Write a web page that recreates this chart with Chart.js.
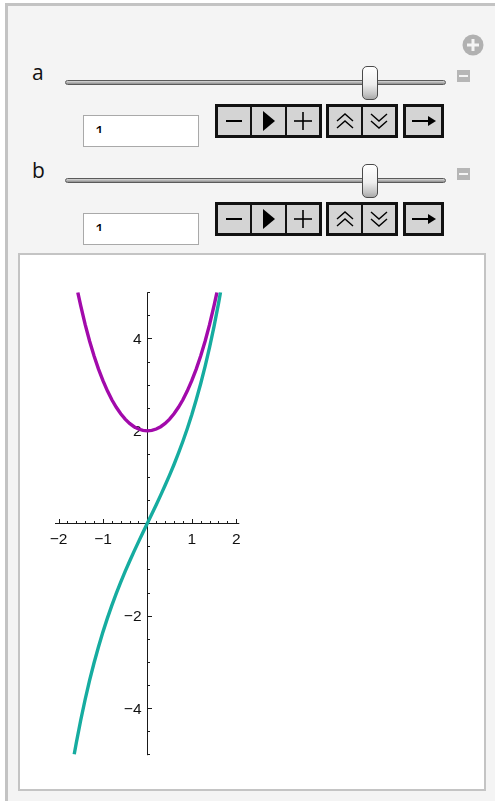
<!DOCTYPE html>
<html>
<head>
<meta charset="utf-8">
<script src="https://cdn.jsdelivr.net/npm/chart.js@4.4.1/dist/chart.umd.min.js"></script>
<style>
  body { margin: 0; background: #fff; width: 495px; height: 801px; overflow: hidden; position: relative; font-family: "Open Sans", "Noto Sans", sans-serif; }
  .panel { position: absolute; left: 5px; top: 3px; width: 510px; height: 820px; border: 3px solid #c3c3c3; background: #f4f4f4; box-sizing: border-box; }
  .lbl { position: absolute; left: 32px; font-size: 21px; color: #111; line-height: 21px; }
  .track { position: absolute; left: 65px; width: 381px; height: 5px; border: 1px solid #5a5a5a; border-radius: 4px; background: linear-gradient(#d8d8d8, #8c8c8c); box-sizing: border-box; }
  .thumb { position: absolute; left: 362px; width: 16px; height: 34px; border: 1px solid #4a4a4a; border-radius: 5px; box-sizing: border-box;
           background: linear-gradient(#ffffff 0%, #eeeeee 55%, #c4c4c4 85%, #a8a8a8 100%); }
  .minus { position: absolute; left: 457px; width: 13px; height: 12px; background: #b6b6b6; }
  .minus::after { content: ""; position: absolute; left: 2px; top: 5px; width: 9px; height: 2px; background: #f4f4f4; }
  .field { position: absolute; left: 83px; width: 116px; height: 32px; border: 1px solid #a9a9a9; background: #fff; box-sizing: border-box; }
  .field span { position: absolute; left: 11px; top: 10px; height: 7px; overflow: hidden; font: 17px "Liberation Sans", Arial, sans-serif; line-height: 17px; color: #000; }
  .field span i { font-style: normal; position: relative; top: -2px; }
  .grp { position: absolute; display: flex; border: 3px solid #111; background: #d4d4d4; box-sizing: border-box; height: 34px; }
  .grp div { width: 34px; height: 28px; display: flex; align-items: center; justify-content: center; }
  .grp div + div { border-left: 2.5px solid #111; }
  .plotbox { position: absolute; left: 18px; top: 253px; width: 468px; height: 538px; border: 2px solid #c4c4c4; background: #fff; box-sizing: border-box; }
  #chart { position: absolute; left: 20px; top: 255px; }
</style>
</head>
<body>
<div class="panel"></div>

<!-- add-control button -->
<svg style="position:absolute;left:462px;top:34px" width="22" height="22">
  <circle cx="11" cy="11" r="10.5" fill="#b1b1b1"/>
  <rect x="5" y="9.5" width="12" height="3" fill="#f4f4f4"/>
  <rect x="9.5" y="5" width="3" height="12" fill="#f4f4f4"/>
</svg>

<!-- control a -->
<div class="lbl" style="top:62px">a</div>
<div class="track" style="top:80px"></div>
<div class="thumb" style="top:66px"></div>
<div class="minus" style="top:70px"></div>
<div class="field" style="top:115px"><span><i>1</i></span></div>
<div class="grp" style="left:215px;top:104px;width:107px">
  <div><svg width="20" height="20"><line x1="2" y1="10" x2="18" y2="10" stroke="#000" stroke-width="2"/></svg></div>
  <div><svg width="20" height="20"><polygon points="5,0 17,10 5,20" fill="#000"/></svg></div>
  <div><svg width="20" height="20"><line x1="1" y1="10" x2="19" y2="10" stroke="#000" stroke-width="1.6"/><line x1="10" y1="1" x2="10" y2="19" stroke="#000" stroke-width="1.6"/></svg></div>
</div>
<div class="grp" style="left:326px;top:104px;width:72px">
  <div><svg width="20" height="20"><polyline points="2,10 10,3 18,10" fill="none" stroke="#000" stroke-width="1.4"/><polyline points="2,17 10,10 18,17" fill="none" stroke="#000" stroke-width="1.4"/></svg></div>
  <div><svg width="20" height="20"><polyline points="2,3 10,10 18,3" fill="none" stroke="#000" stroke-width="1.4"/><polyline points="2,10 10,17 18,10" fill="none" stroke="#000" stroke-width="1.4"/></svg></div>
</div>
<div class="grp" style="left:403px;top:104px;width:41px">
  <div style="width:35px"><svg width="28" height="20"><line x1="2" y1="10" x2="24" y2="10" stroke="#000" stroke-width="2"/><polygon points="18,5 26,10 18,15" fill="#000"/></svg></div>
</div>

<!-- control b -->
<div class="lbl" style="top:160px">b</div>
<div class="track" style="top:178px"></div>
<div class="thumb" style="top:164px"></div>
<div class="minus" style="top:168px"></div>
<div class="field" style="top:213px"><span><i>1</i></span></div>
<div class="grp" style="left:215px;top:202px;width:107px">
  <div><svg width="20" height="20"><line x1="2" y1="10" x2="18" y2="10" stroke="#000" stroke-width="2"/></svg></div>
  <div><svg width="20" height="20"><polygon points="5,0 17,10 5,20" fill="#000"/></svg></div>
  <div><svg width="20" height="20"><line x1="1" y1="10" x2="19" y2="10" stroke="#000" stroke-width="1.6"/><line x1="10" y1="1" x2="10" y2="19" stroke="#000" stroke-width="1.6"/></svg></div>
</div>
<div class="grp" style="left:326px;top:202px;width:72px">
  <div><svg width="20" height="20"><polyline points="2,10 10,3 18,10" fill="none" stroke="#000" stroke-width="1.4"/><polyline points="2,17 10,10 18,17" fill="none" stroke="#000" stroke-width="1.4"/></svg></div>
  <div><svg width="20" height="20"><polyline points="2,3 10,10 18,3" fill="none" stroke="#000" stroke-width="1.4"/><polyline points="2,10 10,17 18,10" fill="none" stroke="#000" stroke-width="1.4"/></svg></div>
</div>
<div class="grp" style="left:403px;top:202px;width:41px">
  <div style="width:35px"><svg width="28" height="20"><line x1="2" y1="10" x2="24" y2="10" stroke="#000" stroke-width="2"/><polygon points="18,5 26,10 18,15" fill="#000"/></svg></div>
</div>

<div class="plotbox"></div>
<canvas id="chart" width="464" height="534"></canvas>

<script>
// curve samples (x, y)
const coshX = [-1.567, -1.5, -1.4, -1.3, -1.2, -1.1, -1.0, -0.9, -0.8, -0.7, -0.6, -0.5, -0.4, -0.3, -0.2, -0.1, 0,
               0.1, 0.2, 0.3, 0.4, 0.5, 0.6, 0.7, 0.8, 0.9, 1.0, 1.1, 1.2, 1.3, 1.4, 1.5, 1.567];
const coshY = [5.0, 4.705, 4.3, 3.941, 3.621, 3.337, 3.086, 2.866, 2.674, 2.51, 2.371, 2.255, 2.162, 2.091, 2.04, 2.01, 2.0,
               2.01, 2.04, 2.091, 2.162, 2.255, 2.371, 2.51, 2.674, 2.866, 3.086, 3.337, 3.621, 3.941, 4.3, 4.705, 5.0];
const sinhX = [-1.647, -1.6, -1.5, -1.4, -1.3, -1.2, -1.1, -1.0, -0.9, -0.8, -0.7, -0.6, -0.5, -0.4, -0.3, -0.2, -0.1, 0,
               0.1, 0.2, 0.3, 0.4, 0.5, 0.6, 0.7, 0.8, 0.9, 1.0, 1.1, 1.2, 1.3, 1.4, 1.5, 1.6, 1.647];
const sinhY = [-5.0, -4.751, -4.259, -3.809, -3.397, -3.019, -2.672, -2.35, -2.053, -1.776, -1.517, -1.273, -1.042, -0.822, -0.609, -0.403, -0.2, 0,
               0.2, 0.403, 0.609, 0.822, 1.042, 1.273, 1.517, 1.776, 2.053, 2.35, 2.672, 3.019, 3.397, 3.809, 4.259, 4.751, 5.0];

const xRange = [-2.08, 2.07];
const yRange = [-5.02, 5.0];
const xMajor = [-2, -1, 1, 2];
const xLabels = ['\u22122', '\u22121', '1', '2'];
const yMajor = [-4, -2, 2, 4];
const yLabels = ['\u22124', '\u22122', '2', '4'];

function pts(xs, ys) {
    return xs.map((x, i) => ({x: x, y: ys[i]}));
}

// axes through the origin, ticks on the inside like the original plot
const originAxes = {
    id: 'originAxes',
    beforeDatasetsDraw(chart) {
        const ctx = chart.ctx;
        const sx = chart.scales.x, sy = chart.scales.y;
        const x0 = Math.round(sx.getPixelForValue(0)) + 0.5;
        const y0 = Math.round(sy.getPixelForValue(0)) + 0.5;
        ctx.save();
        ctx.strokeStyle = '#1a1a1a';
        ctx.lineWidth = 1;
        ctx.beginPath();
        ctx.moveTo(sx.left, y0); ctx.lineTo(sx.right, y0);
        ctx.moveTo(x0, sy.top); ctx.lineTo(x0, sy.bottom);
        // x ticks every 0.2, longer at integers
        for (let k = -10; k <= 10; k++) {
            if (k === 0) continue;
            const px = Math.round(sx.getPixelForValue(k / 5)) + 0.5;
            const len = (k % 5 === 0) ? 4.5 : 2.5;
            ctx.moveTo(px, y0); ctx.lineTo(px, y0 - len);
        }
        // y ticks every 0.5, longer at even numbers
        for (let k = -10; k <= 10; k++) {
            if (k === 0) continue;
            const py = Math.round(sy.getPixelForValue(k / 2)) + 0.5;
            const len = (k % 4 === 0) ? 4.5 : 2.5;
            ctx.moveTo(x0, py); ctx.lineTo(x0 + len, py);
        }
        ctx.stroke();

        ctx.fillStyle = '#111';
        ctx.font = '15.5px "Liberation Sans", Arial, sans-serif';
        ctx.textAlign = 'center';
        ctx.textBaseline = 'alphabetic';
        xMajor.forEach((v, i) => {
            ctx.fillText(xLabels[i], sx.getPixelForValue(v), y0 + 20);
        });
        ctx.textAlign = 'right';
        yMajor.forEach((v, i) => {
            ctx.fillText(yLabels[i], x0 - 6, sy.getPixelForValue(v) + 5.5);
        });
        ctx.restore();
    }
};

const ctx = document.getElementById('chart').getContext('2d');
const myChart = new Chart(ctx, {
    type: 'scatter',
    data: {
        datasets: [
            {
                data: pts(sinhX, sinhY),
                showLine: true,
                borderColor: '#16aca0',
                borderWidth: 3.4,
                pointRadius: 0,
                tension: 0
            },
            {
                data: pts(coshX, coshY),
                showLine: true,
                borderColor: '#a20aab',
                borderWidth: 3.4,
                pointRadius: 0,
                tension: 0
            }
        ]
    },
    options: {
        responsive: false,
        animation: false,
        layout: { padding: { left: 35, top: 37.3, right: 244.7, bottom: 33.8 } },
        plugins: { legend: { display: false }, tooltip: { enabled: false } },
        scales: {
            x: { type: 'linear', min: xRange[0], max: xRange[1], display: false },
            y: { type: 'linear', min: yRange[0], max: yRange[1], display: false }
        }
    },
    plugins: [originAxes]
});
</script>
</body>
</html>
